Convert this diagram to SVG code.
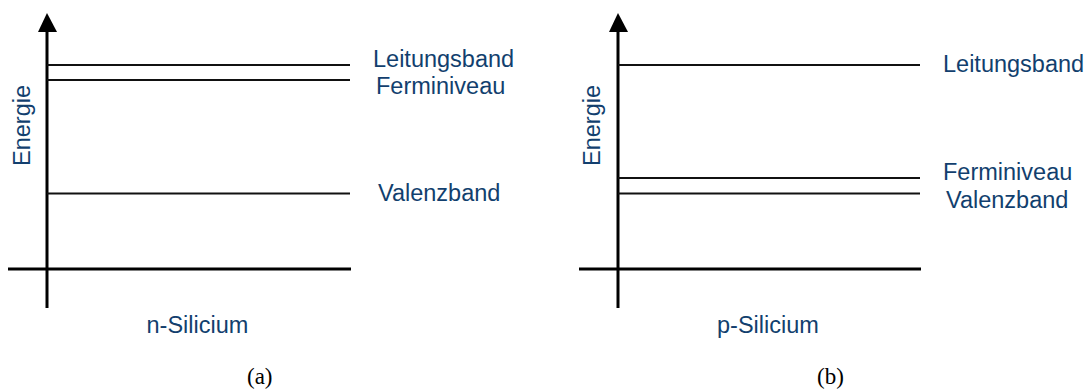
<svg xmlns="http://www.w3.org/2000/svg" width="1091" height="389" viewBox="0 0 1091 389">
<style>
.ax{stroke:#000;stroke-width:3;fill:none}
.band{stroke:#111;stroke-width:2;fill:none}
.lbl{font-family:"Liberation Sans",Arial,sans-serif;font-size:23.5px;fill:#123F6E}
.cap{font-family:"Liberation Serif","Times New Roman",serif;font-size:23px;fill:#000}
.head{fill:#000}
</style>
<rect width="1091" height="389" fill="#fff"/>
<g id="connectors">
<g id="axes-a">
<line class="ax" x1="47" y1="30" x2="47" y2="308"/>
<polygon class="head" points="47,13 38,32 57,32"/>
<line class="ax" x1="8" y1="269" x2="351" y2="269"/>
</g>
<g id="axes-b">
<line class="ax" x1="618" y1="30" x2="618" y2="308"/>
<polygon class="head" points="618,13 609,32 628,32"/>
<line class="ax" x1="579" y1="269" x2="921" y2="269"/>
</g>
</g>
<g id="panel-a">
<g id="a-leitungsband"><line class="band" x1="47" y1="65" x2="350" y2="65"/><text class="lbl" x="373" y="67">Leitungsband</text></g>
<g id="a-ferminiveau"><line class="band" x1="47" y1="80" x2="350" y2="80"/><text class="lbl" x="376" y="94">Ferminiveau</text></g>
<g id="a-valenzband"><line class="band" x1="47" y1="193.5" x2="350" y2="193.5"/><text class="lbl" x="378" y="201">Valenzband</text></g>
<g id="a-energie"><text class="lbl" transform="translate(30,166) rotate(-90)">Energie</text></g>
<g id="a-material"><text class="lbl" x="146.5" y="333">n-Silicium</text></g>
<g id="a-caption"><text class="cap" x="247" y="384">(a)</text></g>
</g>
<g id="panel-b">
<g id="b-leitungsband"><line class="band" x1="618" y1="65" x2="920" y2="65"/><text class="lbl" x="943" y="72">Leitungsband</text></g>
<g id="b-ferminiveau"><line class="band" x1="618" y1="178" x2="920" y2="178"/><text class="lbl" x="943" y="180">Ferminiveau</text></g>
<g id="b-valenzband"><line class="band" x1="618" y1="193.5" x2="920" y2="193.5"/><text class="lbl" x="946" y="208">Valenzband</text></g>
<g id="b-energie"><text class="lbl" transform="translate(600,166) rotate(-90)">Energie</text></g>
<g id="b-material"><text class="lbl" x="717" y="333">p-Silicium</text></g>
<g id="b-caption"><text class="cap" x="817" y="384">(b)</text></g>
</g>
</svg>
